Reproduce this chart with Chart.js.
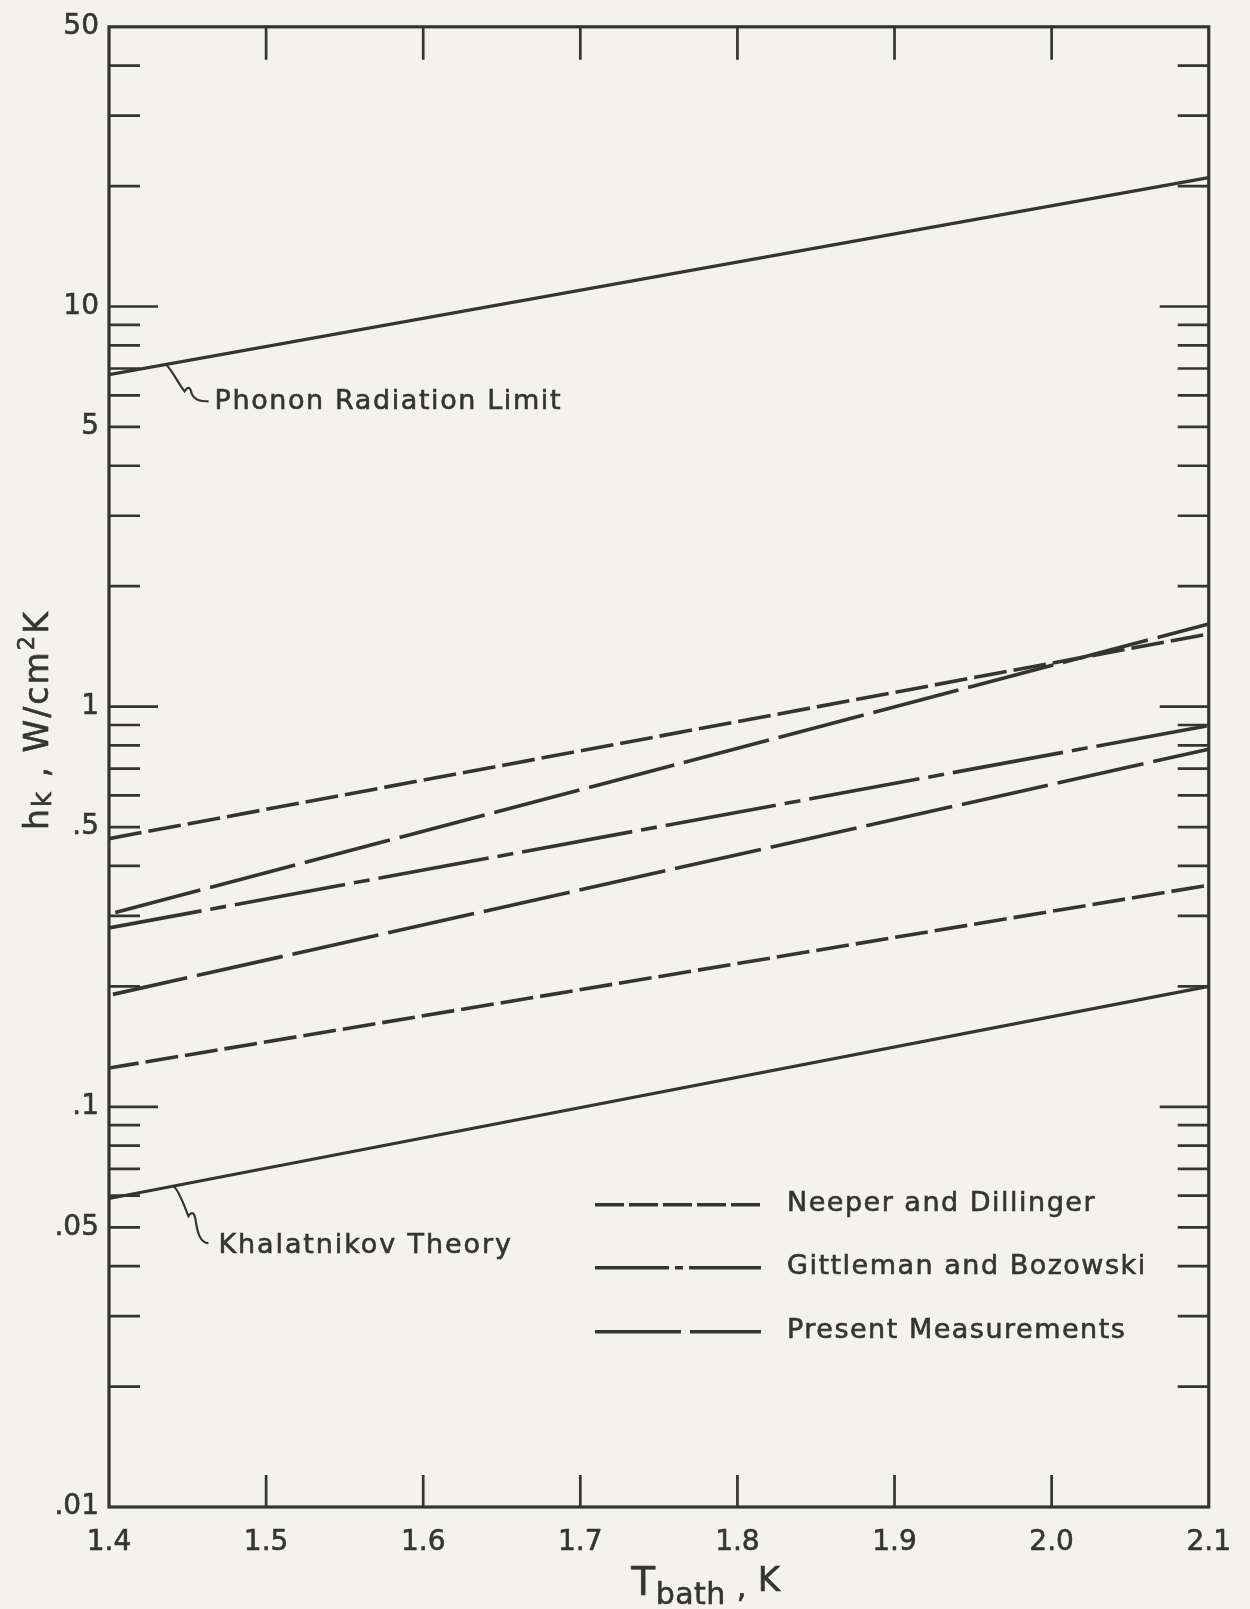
<!DOCTYPE html>
<html><head><meta charset="utf-8">
<script src="https://cdn.jsdelivr.net/npm/chart.js@4.4.1/dist/chart.umd.min.js"></script>
<style>
html,body{margin:0;padding:0;background:#f3f2ed;}
#wrap{width:1250px;height:1609px;position:relative;}
canvas{display:block;}
</style></head><body>
<div id="wrap"><canvas id="c" width="1250" height="1609"></canvas></div>
<script>
const FONT = '"DejaVu Sans", sans-serif';
const INK = '#343432';
const TEXT_STROKE = 0.6;

// Each curve is a straight line on the log plot: values at its two ends
const tPhonon = [1.4, 2.1];
const hPhonon = [6.76, 21.0];
const tKhalat = [1.4, 2.1];
const hKhalat = [0.059, 0.200];
const tNeeperUpper = [1.4, 2.1];
const hNeeperUpper = [0.468, 1.52];
const tNeeperLower = [1.4, 2.1];
const hNeeperLower = [0.125, 0.358];
const tGittleman = [1.4, 2.1];
const hGittleman = [0.280, 0.897];
const tPresentUpper = [1.404, 2.1];
const hPresentUpper = [0.306, 1.61];
const tPresentLower = [1.4025, 2.1];
const hPresentLower = [0.191, 0.783];

const xTickValues = [1.4, 1.5, 1.6, 1.7, 1.8, 1.9, 2.0, 2.1];
const xTickLabels = ['1.4', '1.5', '1.6', '1.7', '1.8', '1.9', '2.0', '2.1'];
const yLabelValues = [0.01, 0.05, 0.1, 0.5, 1, 5, 10, 50];
const yLabelTexts = ['.01', '.05', '.1', '.5', '1', '5', '10', '50'];
const yMajorTicks = [0.1, 1, 10];
const yMinorTicks = [0.02, 0.03, 0.04, 0.05, 0.06, 0.07, 0.08, 0.09,
                     0.2, 0.3, 0.4, 0.5, 0.6, 0.7, 0.8, 0.9,
                     2, 3, 4, 5, 6, 7, 8, 9, 20, 30, 40];

const legendNames = ['Neeper and Dillinger', 'Gittleman and Bozowski', 'Present Measurements'];
const dashNeeper = [33, 7];
const dashGittleman = [112, 9, 16, 9];
const dashPresent = [88, 10];
const legendDashes = [[29, 5], [74, 6, 8, 6, 200], [86, 9]];

function pts(t, h) { return t.map((x, i) => ({ x: x, y: h[i] })); }
function hAt(t, ts, hs) {
  const f = (t - ts[0]) / (ts[1] - ts[0]);
  const a = Math.log10(hs[0]), b = Math.log10(hs[1]);
  return Math.pow(10, a + f * (b - a));
}

const base = { fill: false, pointRadius: 0, pointHoverRadius: 0, borderColor: INK,
               borderWidth: 3.6, tension: 0, borderCapStyle: 'butt' };

function fillStroke(ctx, text, x, y) {
  ctx.fillText(text, x, y);
  ctx.lineWidth = TEXT_STROKE;
  ctx.strokeText(text, x, y);
}
function drawRuns(ctx, runs, x, y, spacing) {
  let cx = x;
  runs.forEach(r => {
    ctx.font = r.size + 'px ' + FONT;
    ctx.letterSpacing = (spacing || 0) + 'px';
    fillStroke(ctx, r.text, cx, y + (r.dy || 0));
    cx += ctx.measureText(r.text).width;
  });
  return cx - x;
}
function runsWidth(ctx, runs, spacing) {
  let w = 0;
  runs.forEach(r => {
    ctx.font = r.size + 'px ' + FONT;
    ctx.letterSpacing = (spacing || 0) + 'px';
    w += ctx.measureText(r.text).width;
  });
  return w;
}

const decor = {
  id: 'decor',
  afterDatasetsDraw(chart) {
    const { ctx, chartArea: a, scales: { x, y } } = chart;
    ctx.save();
    ctx.strokeStyle = INK; ctx.fillStyle = INK;
    // frame
    ctx.lineWidth = 3.2; ctx.lineCap = 'butt';
    ctx.strokeRect(a.left, a.top, a.right - a.left, a.bottom - a.top);
    // inward ticks
    ctx.lineWidth = 2.7;
    ctx.beginPath();
    xTickValues.slice(1, -1).forEach(v => {
      const px = x.getPixelForValue(v);
      ctx.moveTo(px, a.bottom); ctx.lineTo(px, a.bottom - 32);
      ctx.moveTo(px, a.top); ctx.lineTo(px, a.top + 33);
    });
    yMajorTicks.concat(yMinorTicks).forEach(v => {
      const py = y.getPixelForValue(v);
      const len = yMajorTicks.includes(v) ? 49 : 31;
      ctx.moveTo(a.left, py); ctx.lineTo(a.left + len, py);
      ctx.moveTo(a.right, py); ctx.lineTo(a.right - len, py);
    });
    ctx.stroke();

    // annotations with leader squiggles
    const notes = [
      { text: 'Phonon Radiation Limit', t: 1.436, ts: tPhonon, hs: hPhonon, kind: 0, sp: 1.6 },
      { text: 'Khalatnikov Theory', t: 1.441, ts: tKhalat, hs: hKhalat, kind: 1, sp: 1.9 }
    ];
    notes.forEach(n => {
      const sx = x.getPixelForValue(n.t);
      const sy = y.getPixelForValue(hAt(n.t, n.ts, n.hs));
      ctx.lineWidth = 2.2;
      ctx.beginPath();
      ctx.moveTo(sx, sy);
      let ex, ey;
      if (n.kind === 0) {
        ctx.bezierCurveTo(sx + 5, sy + 3, sx + 12, sy + 18, sx + 19, sy + 27);
        ctx.quadraticCurveTo(sx + 24, sy + 19, sx + 26, sy + 29);
        ctx.bezierCurveTo(sx + 29, sy + 36, sx + 35, sy + 37, sx + 43, sy + 37);
        ex = sx + 49; ey = sy + 38;
      } else {
        ctx.bezierCurveTo(sx + 5, sy + 3, sx + 11, sy + 20, sx + 15, sy + 30);
        ctx.quadraticCurveTo(sx + 20, sy + 23, sx + 22, sy + 33);
        ctx.bezierCurveTo(sx + 24, sy + 47, sx + 27, sy + 57, sx + 35, sy + 57);
        ex = sx + 45; ey = sy + 60;
      }
      ctx.stroke();
      ctx.font = '27px ' + FONT;
      ctx.letterSpacing = n.sp + 'px';
      ctx.textBaseline = 'middle'; ctx.textAlign = 'left';
      fillStroke(ctx, n.text, ex, ey);
    });

    // legend
    const lx0 = a.left + 486, lx1 = a.left + 652, tx = a.left + 678;
    const rows = [a.top + 1177, a.top + 1240, a.top + 1304];
    legendNames.forEach((name, i) => {
      ctx.lineWidth = 3.6;
      ctx.setLineDash(legendDashes[i]);
      ctx.beginPath(); ctx.moveTo(lx0, rows[i] + 1); ctx.lineTo(lx1, rows[i] + 1); ctx.stroke();
      ctx.setLineDash([]);
      ctx.font = '27px ' + FONT;
      ctx.letterSpacing = '1.5px';
      ctx.textBaseline = 'middle';
      fillStroke(ctx, name, tx, rows[i]);
    });

    // y-axis title (rotated)
    ctx.textBaseline = 'alphabetic'; ctx.textAlign = 'left';
    const yRuns = [
      { text: 'h', size: 33 }, { text: 'k', size: 26, dy: 3 },
      { text: ' , W/cm', size: 33 }, { text: '2', size: 23, dy: -14 },
      { text: 'K', size: 33 }
    ];
    ctx.save();
    ctx.translate(48, 720);
    ctx.rotate(-Math.PI / 2);
    const yw = runsWidth(ctx, yRuns, 2);
    drawRuns(ctx, yRuns, -yw / 2, 0, 2);
    ctx.restore();

    // x-axis title
    const xRuns = [
      { text: 'T', size: 39 }, { text: 'bath', size: 30, dy: 9 },
      { text: ' , ', size: 32, dy: 2 }, { text: 'K', size: 34, dy: -4 }
    ];
    const xw = runsWidth(ctx, xRuns, 0.5);
    drawRuns(ctx, xRuns, 706 - xw / 2, 1595, 0.5);
    ctx.restore();
  }
};

new Chart(document.getElementById('c'), {
  type: 'line',
  data: {
    datasets: [
      { ...base, label: 'Phonon Radiation Limit', data: pts(tPhonon, hPhonon), borderWidth: 3.2 },
      { ...base, label: 'Khalatnikov Theory', data: pts(tKhalat, hKhalat), borderWidth: 3.2 },
      { ...base, label: 'Neeper and Dillinger', data: pts(tNeeperUpper, hNeeperUpper), borderDash: dashNeeper },
      { ...base, label: 'Neeper and Dillinger (lower)', data: pts(tNeeperLower, hNeeperLower), borderDash: dashNeeper, borderDashOffset: 3 },
      { ...base, label: 'Gittleman and Bozowski', data: pts(tGittleman, hGittleman), borderDash: dashGittleman, borderDashOffset: 18 },
      { ...base, label: 'Present Measurements', data: pts(tPresentUpper, hPresentUpper), borderDash: dashPresent },
      { ...base, label: 'Present Measurements (lower)', data: pts(tPresentLower, hPresentLower), borderDash: dashPresent, borderDashOffset: 12 }
    ]
  },
  options: {
    responsive: false,
    animation: false,
    events: [],
    layout: { padding: { top: 23, right: 13, left: 0, bottom: 0 } },
    plugins: { legend: { display: false }, tooltip: { enabled: false } },
    scales: {
      x: {
        type: 'linear', min: 1.4, max: 2.1,
        afterBuildTicks: s => { s.ticks = xTickValues.map(v => ({ value: v })); },
        afterFit: s => { s.height = 102; },
        grid: { display: false, drawTicks: false },
        border: { display: false },
        ticks: { autoSkip: false, maxRotation: 0, padding: 19, color: INK,
                 textStrokeColor: INK, textStrokeWidth: TEXT_STROKE,
                 font: { family: FONT, size: 28 },
                 callback: (v, i) => xTickLabels[i] }
      },
      y: {
        type: 'logarithmic', min: 0.01, max: 50,
        afterBuildTicks: s => { s.ticks = yLabelValues.map(v => ({ value: v })); },
        afterFit: s => { s.width = 109; },
        grid: { display: false, drawTicks: false },
        border: { display: false },
        ticks: { autoSkip: false, padding: 10, color: INK,
                 textStrokeColor: INK, textStrokeWidth: TEXT_STROKE,
                 font: { family: FONT, size: 28 },
                 callback: v => { const i = yLabelValues.indexOf(v); return i >= 0 ? yLabelTexts[i] : ''; } }
      }
    }
  },
  plugins: [decor]
});
</script>
</body></html>
